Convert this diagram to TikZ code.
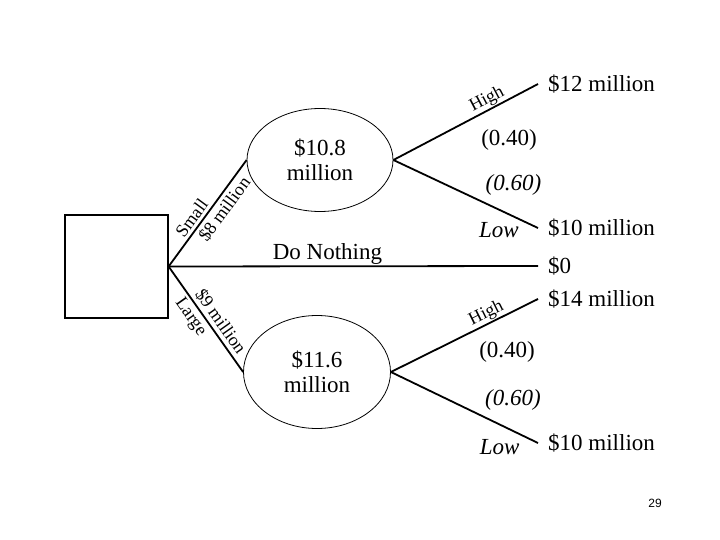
\documentclass[tikz,border=0pt]{standalone}
\usepackage{fontspec}
\setmainfont{Liberation Serif}
\newfontfamily\pagefont{Liberation Sans}
\usepackage{tikz}
\usetikzlibrary{shapes.geometric, positioning}

\begin{document}
\begin{tikzpicture}[
  x=1pt, y=-1pt,
  font=\fontsize{23}{25}\selectfont,
  box/.style={draw, line width=1.2pt, minimum size=103pt, inner sep=0pt},
  chance/.style={ellipse, draw, line width=0.8pt, align=center, inner sep=0pt},
  payoff/.style={anchor=west, inner xsep=10pt, inner ysep=0pt},
  branch/.style={line width=1.8pt},
  lbl/.style={sloped, inner sep=3pt, font=\fontsize{18}{20}\selectfont},
  prob/.style={inner sep=0pt}
]
\useasboundingbox (0,0) rectangle (720,540);

\node[box] (decide) at (116.5,266.5) {};
\node[chance, minimum width=146pt, minimum height=103pt] (small) at (320,160) {\$10.8\\million};
\node[chance, minimum width=147pt, minimum height=113pt] (large) at (317,372) {\$11.6\\million};

\node[payoff] (hiA) at (538,84) {\$12 million};
\node[payoff] (loA) at (538,228) {\$10 million};
\node[payoff] (none) at (538,266) {\$0};
\node[payoff] (hiB) at (538,299) {\$14 million};
\node[payoff] (loB) at (538,443) {\$10 million};

\node[font=\pagefont\fontsize{12}{14}\selectfont] (page) at (655,503) {29};

% first stage
\draw[branch] (decide.east) -- node[lbl, above, pos=0.4] {Small} node[lbl, below, pos=0.6] {\$8 million} (small.west);
\draw[branch] (decide.east) -- node[prob, pos=0.43, above=1pt] {Do Nothing} (none.west);
\draw[branch] (decide.east) -- node[lbl, above, pos=0.58] {\$9 million} node[lbl, below, pos=0.42] {Large} (large.west);

% demand outcomes
\draw[branch] (small.east) -- node[lbl, above, pos=0.68, inner sep=1pt] {High} node[prob, pos=0.8, below=29pt] {(0.40)} (hiA.west);
\draw[branch] (small.east) -- node[prob, pos=0.83, above=20pt] {\textit{(0.60)}} node[prob, pos=0.73, below=12pt] {\textit{Low}} (loA.west);
\draw[branch] (large.east) -- node[lbl, above, pos=0.68, inner sep=1pt] {High} node[prob, pos=0.79, below=26pt] {(0.40)} (hiB.west);
\draw[branch] (large.east) -- node[prob, pos=0.83, above=20pt] {\textit{(0.60)}} node[prob, pos=0.74, below=14pt] {\textit{Low}} (loB.west);
\end{tikzpicture}
\end{document}
